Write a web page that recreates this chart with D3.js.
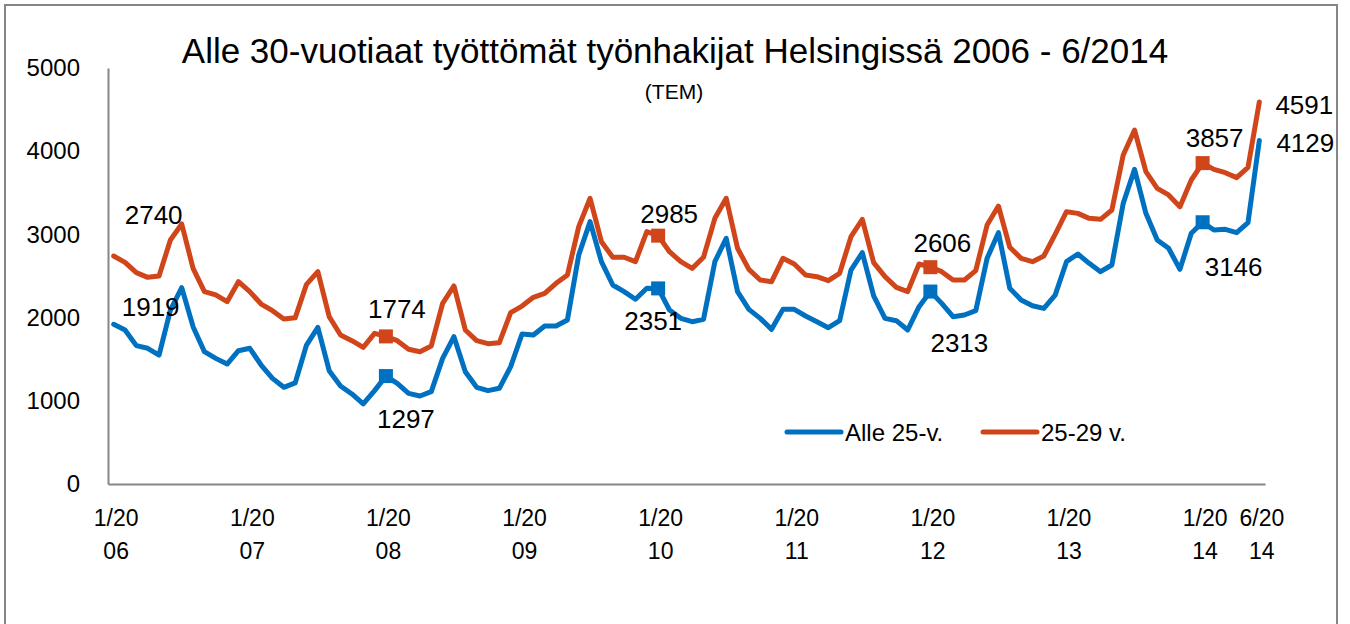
<!DOCTYPE html>
<html lang="fi">
<head>
<meta charset="UTF-8">
<title>Alle 30-vuotiaat työttömät työnhakijat Helsingissä</title>
<script src="https://d3js.org/d3.v7.min.js"></script>
<style>
    body { margin: 0; background: #fff; }
    svg text { font-family: "Liberation Sans", Arial, sans-serif; fill: #000; }
    .axis path { stroke: #868686; stroke-width: 2; }
    .axis line { display: none; }
</style>
</head>
<body>
<script>
// Monthly data 1/2006 - 6/2014
const years = [2006, 2007, 2008, 2009, 2010, 2011, 2012, 2013, 2014];
const lastMonth = 6;

const alle25 = [
    1919, 1851, 1663, 1631, 1550, 2091, 2360, 1891, 1590, 1510, 1442, 1602,
    1631, 1430, 1270, 1162, 1215, 1670, 1883, 1362, 1178, 1082, 962, 1122,
    1297, 1210, 1090, 1058, 1110, 1510, 1771, 1350, 1162, 1122, 1150, 1410,
    1803, 1791, 1899, 1899, 1971, 2752, 3153, 2672, 2392, 2312, 2220, 2352,
    2351, 2091, 1991, 1951, 1979, 2672, 2953, 2312, 2099, 1991, 1859, 2099,
    2099, 2019, 1951, 1879, 1963, 2572, 2780, 2260, 1991, 1963, 1851, 2131,
    2313, 2171, 2011, 2031, 2083, 2712, 3021, 2352, 2212, 2143, 2111, 2270,
    2672, 2764, 2652, 2552, 2632, 3373, 3782, 3253, 2933, 2833, 2580, 3013,
    3146, 3053, 3061, 3021, 3141, 4129
];
const age2529 = [
    2740, 2664, 2540, 2484, 2500, 2933, 3125, 2592, 2312, 2272, 2191, 2432,
    2312, 2163, 2083, 1983, 1997, 2400, 2552, 2011, 1791, 1723, 1643, 1811,
    1774, 1723, 1619, 1590, 1659, 2171, 2380, 1851, 1723, 1687, 1699, 2059,
    2139, 2244, 2292, 2412, 2512, 3093, 3434, 2912, 2725, 2725, 2672, 3033,
    2985, 2792, 2672, 2592, 2725, 3193, 3434, 2833, 2580, 2452, 2432, 2712,
    2644, 2512, 2492, 2444, 2532, 2973, 3181, 2660, 2492, 2364, 2312, 2644,
    2606, 2552, 2452, 2452, 2564, 3113, 3341, 2845, 2712, 2672, 2740, 3000,
    3273, 3253, 3193, 3181, 3293, 3954, 4255, 3754, 3554, 3474, 3333, 3654,
    3857, 3782, 3742, 3682, 3806, 4591
];

const yTicks = [0, 1000, 2000, 3000, 4000, 5000];
const xTickLabels = ["1/2006", "1/2007", "1/2008", "1/2009", "1/2010", "1/2011", "1/2012", "1/2013", "1/2014", "6/2014"];
const seriesNames = ["Alle 25-v.", "25-29 v."];
const colors = ["#0070c0", "#d0461a"];

// month categories
const months = [];
years.forEach(y => {
    const n = y === 2014 ? lastMonth : 12;
    for (let m = 1; m <= n; m++) months.push(m + "/" + y);
});

// labelled points: month index, series, label offset
const labelled = [
    {i: 0, s: 0, dx: 37, dy: -17}, {i: 0, s: 1, dx: 40, dy: -41},
    {i: 24, s: 0, dx: 20, dy: 43}, {i: 24, s: 1, dx: 11, dy: -27},
    {i: 48, s: 0, dx: -5, dy: 33}, {i: 48, s: 1, dx: 11, dy: -22},
    {i: 72, s: 0, dx: 29, dy: 51}, {i: 72, s: 1, dx: 12, dy: -24},
    {i: 96, s: 0, dx: 31, dy: 45}, {i: 96, s: 1, dx: 12, dy: -25},
    {i: 101, s: 0, dx: 46, dy: 3}, {i: 101, s: 1, dx: 45, dy: 3}
];
const markerIdx = [24, 48, 72, 96];

const W = 1350, H = 624;
const svg = d3.select("body").append("svg").attr("width", W).attr("height", H);

// outer frame
svg.append("rect").attr("x", 5).attr("y", 5).attr("width", 1332).attr("height", 700)
    .attr("fill", "none").attr("stroke", "#868686").attr("stroke-width", 2);

const x = d3.scalePoint().domain(months).range([108, 1265]).padding(0.5);
const y = d3.scaleLinear().domain([0, 5000]).range([484, 68]);

// axes
svg.append("g").attr("class", "axis").attr("transform", "translate(108,0)")
    .call(d3.axisLeft(y).tickValues(yTicks).tickSize(0).tickPadding(28).tickFormat(d3.format("d")))
    .call(g => g.selectAll("text").style("font-size", "24px"));

const xAxis = svg.append("g").attr("class", "axis").attr("transform", "translate(0,484)")
    .call(d3.axisBottom(x).tickValues(xTickLabels).tickSize(0).tickPadding(0).tickFormat(""));
xAxis.selectAll(".tick").append("text")
    .style("font-size", "23px").attr("text-anchor", "middle")
    .each(function(d) {
        const t = d3.select(this);
        t.append("tspan").attr("x", 2).attr("y", 42).text(d.slice(0, 4));
        t.append("tspan").attr("x", 2).attr("y", 75).text(d.slice(4));
    });

// lines
const series = [alle25, age2529];
const line = d3.line().x((d, i) => x(months[i])).y(d => y(d));
series.forEach((vals, s) => {
    svg.append("path").datum(vals)
        .attr("fill", "none").attr("stroke", colors[s]).attr("stroke-width", 5)
        .attr("stroke-linejoin", "round").attr("stroke-linecap", "round")
        .attr("d", line);
    svg.selectAll(null).data(markerIdx).enter().append("rect")
        .attr("x", i => x(months[i]) - 7).attr("y", i => y(vals[i]) - 7)
        .attr("width", 14).attr("height", 14).attr("fill", colors[s]);
});

// data labels
svg.selectAll(".dlabel").data(labelled).enter().append("text")
    .attr("class", "dlabel")
    .attr("x", d => x(months[d.i]) + d.dx)
    .attr("y", d => y(series[d.s][d.i]) + d.dy)
    .attr("text-anchor", "middle").attr("dominant-baseline", "central")
    .style("font-size", "26px")
    .text(d => series[d.s][d.i]);

// title
svg.append("text").attr("x", 675).attr("y", 63).attr("text-anchor", "middle")
    .style("font-size", "35px").text("Alle 30-vuotiaat työttömät työnhakijat Helsingissä 2006 - 6/2014");
svg.append("text").attr("x", 674).attr("y", 99).attr("text-anchor", "middle")
    .style("font-size", "21px").text("(TEM)");

// legend
const legendX = [787, 983];
seriesNames.forEach((name, s) => {
    svg.append("line").attr("x1", legendX[s]).attr("x2", legendX[s] + 54)
        .attr("y1", 432).attr("y2", 432)
        .attr("stroke", colors[s]).attr("stroke-width", 5).attr("stroke-linecap", "round");
    svg.append("text").attr("x", legendX[s] + 58).attr("y", 432)
        .attr("dominant-baseline", "central").style("font-size", "24px").text(name);
});
</script>
</body>
</html>
